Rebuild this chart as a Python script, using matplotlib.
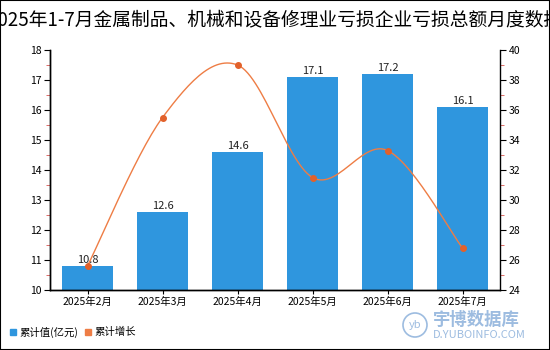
import numpy as np
import matplotlib
matplotlib.use("Agg")
import matplotlib.pyplot as plt
from matplotlib.patches import Rectangle, Ellipse
from matplotlib.ticker import MultipleLocator

plt.rcParams['font.family'] = ['Noto Sans CJK SC', 'DejaVu Sans']

title = "2025年1-7月金属制品、机械和设备修理业亏损企业亏损总额月度数据"
categories = ["2025年2月", "2025年3月", "2025年4月", "2025年5月", "2025年6月", "2025年7月"]
values = [10.8, 12.6, 14.6, 17.1, 17.2, 16.1]
growth = [25.6, 35.5, 39.0, 31.5, 33.3, 26.8]
value_labels = ["10.8", "12.6", "14.6", "17.1", "17.2", "16.1"]
legend_labels = ["累计值(亿元)", "累计增长"]

bar_color = "#2F96DE"
line_color = "#EE7D45"
marker_color = "#E2612B"

fig = plt.figure(figsize=(5.5, 3.5), dpi=100)
fig.patches.append(Rectangle((0, 0), 1, 1, transform=fig.transFigure, fill=False,
                             edgecolor="black", linewidth=1.5, zorder=10))
ax = fig.add_axes([50/550, 60/350, 450/550, 240/350])
ax2 = ax.twinx()

x = np.arange(len(categories))
ax.bar(x, values, width=0.667, color=bar_color, zorder=2)
for xi, v, lab in zip(x, values, value_labels):
    ax.text(xi, v + 0.04, lab, ha="center", va="bottom", fontsize=8, color="#222222")

ax.set_xlim(-0.5, len(categories) - 0.5)
ax.set_ylim(10, 18)
ax.yaxis.set_major_locator(MultipleLocator(1))
ax.yaxis.set_minor_locator(MultipleLocator(0.5))
ax.set_xticks(x)
ax.set_xticklabels(categories, fontsize=7.5)
ax.tick_params(axis="y", labelsize=7.5, length=4, width=0.8, pad=2)
ax.tick_params(axis="y", which="minor", length=3, color="#D9534F")
ax.tick_params(axis="x", length=3, width=0.8, pad=2)

# smooth curve (Catmull-Rom through the data points, for display only)
def catmull(xs, ys, n=30):
    px, py = [], []
    xs = np.asarray(xs, float); ys = np.asarray(ys, float)
    for i in range(len(xs) - 1):
        p0 = (xs[max(i-1, 0)], ys[max(i-1, 0)])
        p1 = (xs[i], ys[i]); p2 = (xs[i+1], ys[i+1])
        p3 = (xs[min(i+2, len(xs)-1)], ys[min(i+2, len(xs)-1)])
        c1 = (p1[0] + (p2[0]-p0[0])/6, p1[1] + (p2[1]-p0[1])/6)
        c2 = (p2[0] - (p3[0]-p1[0])/6, p2[1] - (p3[1]-p1[1])/6)
        t = np.linspace(0, 1, n)
        bx = (1-t)**3*p1[0] + 3*(1-t)**2*t*c1[0] + 3*(1-t)*t**2*c2[0] + t**3*p2[0]
        by = (1-t)**3*p1[1] + 3*(1-t)**2*t*c1[1] + 3*(1-t)*t**2*c2[1] + t**3*p2[1]
        px.extend(bx); py.extend(by)
    return np.array(px), np.array(py)

sx, sy = catmull(x, growth)
ax2.plot(sx, sy, color=line_color, linewidth=1.0, zorder=3)
ax2.plot(x, growth, 'o', color=marker_color, markersize=4, zorder=4)
ax2.set_ylim(24, 40)
ax2.yaxis.set_major_locator(MultipleLocator(2))
ax2.yaxis.set_minor_locator(MultipleLocator(1))
ax2.tick_params(axis="y", labelsize=7.5, length=4, width=0.8, pad=2)
ax2.tick_params(axis="y", which="minor", length=3, color="#D9534F")

for a in (ax, ax2):
    a.spines["top"].set_visible(False)
    for s in ("left", "right", "bottom"):
        a.spines[s].set_linewidth(1.0)
ax.spines["right"].set_visible(False)

fig.text(0.5, 1 - 20/350, title, ha="center", va="center", fontsize=13.5, color="black")

# legend
fig.patches.append(Rectangle((10/550, 1 - 335/350), 6/550, 6/350, transform=fig.transFigure,
                             color=bar_color))
fig.text(19/550, 1 - 332/350, legend_labels[0], ha="left", va="center", fontsize=7.5)
fig.patches.append(Rectangle((85/550, 1 - 335/350), 6/550, 6/350, transform=fig.transFigure,
                             color=line_color))
fig.text(94/550, 1 - 332/350, legend_labels[1], ha="left", va="center", fontsize=7.5)

# watermark
wm = "#9DBCE0"
fig.patches.append(Ellipse((415/550, 1 - 325/350), 24/550, 24/350,
                   transform=fig.transFigure, fill=False, edgecolor=wm, linewidth=1.2))
fig.text(415/550, 1 - 325/350, "yb", ha="center", va="center", fontsize=8, color=wm, style="italic")
fig.text(433/550, 1 - 320/350, "宇博数据库", ha="left", va="center", fontsize=12.5, color=wm, fontweight="bold")
fig.text(433/550, 1 - 335/350, "D.YUBOINFO.COM", ha="left", va="center", fontsize=8, color=wm)

fig.savefig("out.png", dpi=100)
